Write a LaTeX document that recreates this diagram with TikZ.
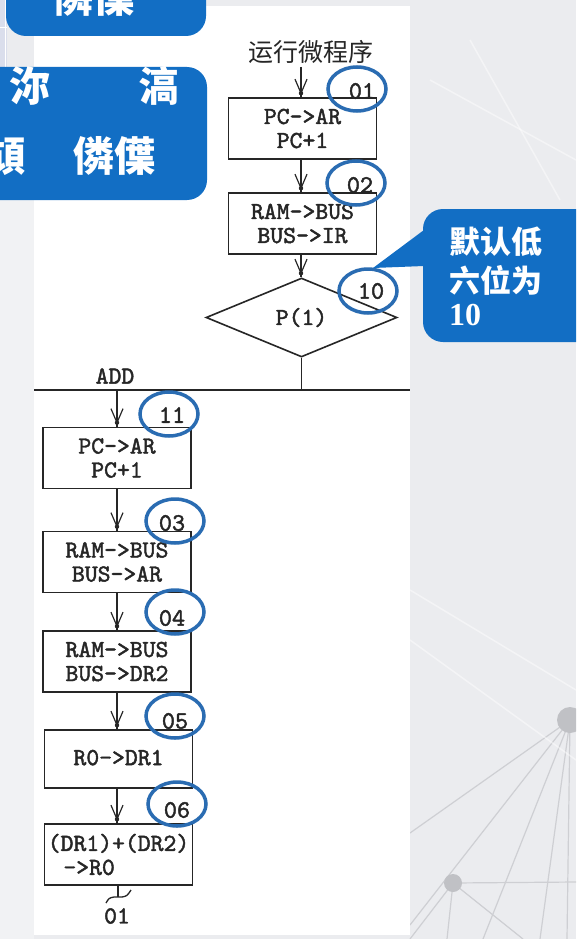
\documentclass[tikz,border=0pt]{standalone}
\usepackage{fontspec}
\setmainfont{Liberation Serif}
\newfontfamily\cjk{Noto Sans CJK SC}
\newfontfamily\dfont[FakeBold=1.8]{lmmono10-regular.otf}
\usetikzlibrary{shapes.geometric}
\definecolor{bgcol}{RGB}{235,236,239}
\definecolor{slideblue}{RGB}{18,110,196}
\definecolor{ringblue}{RGB}{42,108,178}
\definecolor{ink}{RGB}{38,38,38}
\definecolor{netline}{RGB}{206,207,211}
\definecolor{netdot}{RGB}{192,193,197}
\definecolor{stripcol}{RGB}{218,222,236}
\begin{document}
\begin{tikzpicture}[x=1pt,y=-1pt,
  box/.style={draw=ink, line width=1.6pt, minimum width=148pt, minimum height=61pt,
    inner sep=0pt, align=center, text=ink, font=\dfont\fontsize{24.5}{24}\selectfont},
  dlabel/.style={text=ink, inner sep=0pt, font=\dfont\fontsize{24.5}{24}\selectfont},
  ringlabel/.style={text=ink, inner sep=0pt, font=\dfont\fontsize{25}{24}\selectfont},
  ring/.style={draw=ringblue, line width=3.5pt, ellipse, minimum width=58pt, minimum height=44pt, inner sep=0pt},
  flow/.style={draw=ink, line width=1.3pt},
  whitecjk/.style={text=white, inner sep=0pt, font=\cjk\bfseries\fontsize{41}{41}\selectfont},
  callcjk/.style={text=white, inner sep=0pt, anchor=west, font=\cjk\bfseries\fontsize{31}{31}\selectfont},
  barb/.pic={\draw[ink, line width=1.2pt] (-6,-18) -- (0,-4) -- (6,-18);
             \fill[ink] (0,-4) circle (2.2);}
]
\useasboundingbox (0,0) rectangle (576,939);
\clip (0,0) rectangle (576,939);
% background
\fill[bgcol] (0,0) rectangle (576,939);
\fill[white, opacity=0.35] (0,180) rectangle (34,939);
% faint network in background
\begin{scope}[line width=1.2pt, netline]
  \coordinate (n1) at (570,720);
  \coordinate (n2) at (453,883);
  \draw (n1) -- (410,833);
  \draw (n1) -- (410,925);
  \draw (n1) -- (483,939);
  \draw (n1) -- (540,939);
  \draw (n1) -- (567,939);
  \draw (n2) -- (576,882);
  \draw (n2) -- (410,939);
  \draw (n2) -- (447,939);
  \draw (n2) -- (523,939);
  \fill[netdot] (n1) circle (13);
  \fill[netdot] (n2) circle (9);
\end{scope}
\begin{scope}[white, line width=1.5pt, opacity=0.45]
  \draw (410,590) -- (576,690);
  \draw (410,640) -- (576,760);
  \draw (430,80) -- (576,160);
  \draw (470,40) -- (560,200);
\end{scope}
% left strip
\fill[stripcol] (0,0) rectangle (7,135);
\draw[white, line width=1pt] (0,28) -- (7,28) (0,100) -- (7,100) (5,0) -- (5,135);
% white panel
\fill[white] (34,6) rectangle (410,935);
% top-left blue boxes
\fill[slideblue, rounded corners=20pt] (6,-40) rectangle (206,36);
\fill[slideblue, rounded corners=20pt] (-40,67) rectangle (207,200);
\node[whitecjk] (tA) at (93,-3) {僯僷};
\node[whitecjk] (tB) at (30,86) {沵};
\node[whitecjk] (tC) at (159,86) {滈};
\node[whitecjk] (tD) at (5,156) {頏};
\node[whitecjk] (tE) at (114,156) {僯僷};
% upper flow
\node[text=ink, inner sep=0pt, font=\cjk\fontsize{25}{25}\selectfont] (start) at (311,52) {运行微程序};
\node[box] (b1) at (302.5,128.5) {PC->AR\\PC+1};
\node[box] (b2) at (302.5,223.5) {RAM->BUS\\BUS->IR};
\node[draw=ink, line width=1.6pt, diamond, minimum width=191pt, minimum height=79pt, inner sep=0pt,
      text=ink, font=\dfont\fontsize{24.5}{24}\selectfont] (d1) at (301.5,317.5) {P(1)};
\coordinate (busL) at (34,390);
\coordinate (busR) at (410,390);
\draw[ink, line width=1.6pt] (busL) -- (busR);
\draw[flow] (d1.south) -- (d1.south |- busL);
\node[dlabel] (add) at (115,376) {ADD};
\coordinate (s0) at (301,67);
\draw[flow] (s0) -- (s0 |- b1.north);
\pic at (s0 |- b1.north) {barb};
\draw[flow] (b1.south -| s0) -- (b2.north -| s0);
\pic at (b2.north -| s0) {barb};
\draw[flow] (b2.south -| s0) -- (d1.north -| s0);
\pic at (d1.north -| s0) {barb};
% lower flow
\node[box] (b11) at (117,458) {PC->AR\\PC+1};
\node[box] (b03) at (117,562) {RAM->BUS\\BUS->AR};
\node[box] (b04) at (117,661.5) {RAM->BUS\\BUS->DR2};
\node[box, minimum height=58pt] (b05) at (118.5,759) {\raisebox{3pt}{R0->DR1}};
\node[box] (b06) at (118.5,854.5) {(DR1)+(DR2)\\->R0\hspace*{2.4em}};
\coordinate (x0) at (117,390);
\draw[flow] (x0) -- (x0 |- b11.north);
\pic at (x0 |- b11.north) {barb};
\draw[flow] (x0 |- b11.south) -- (x0 |- b03.north);
\pic at (x0 |- b03.north) {barb};
\draw[flow] (x0 |- b03.south) -- (x0 |- b04.north);
\pic at (x0 |- b04.north) {barb};
\draw[flow] (x0 |- b04.south) -- (x0 |- b05.north);
\pic at (x0 |- b05.north) {barb};
\draw[flow] (x0 |- b05.south) -- (x0 |- b06.north);
\pic at (x0 |- b06.north) {barb};
\coordinate (endv) at (118,897);
\draw[flow] (endv |- b06.south) -- (endv);
\draw[flow] (106,903) .. controls (109,898) .. (114,897) -- (122,897) .. controls (127,896) .. (131,890);
\node[dlabel] (goto) at (117,916) {01};
% rings
\node[ring] (r01) at (357,89) {};
\node[ring] (r02) at (356,183) {};
\node[ring] (r10) at (368,291) {};
\node[ring] (r11) at (169,414) {};
\node[ring] (r03) at (175,521) {};
\node[ring] (r04) at (175,612) {};
\node[ring] (r05) at (175,716) {};
\node[ring] (r06) at (177,804) {};
\node[ringlabel] at ([xshift=5pt,yshift=-2pt]r01.center) {01};
\node[ringlabel] at ([xshift=4pt,yshift=-2pt]r02.center) {02};
\node[ringlabel] at ([xshift=3pt,yshift=0pt]r10.center) {10};
\node[ringlabel] at ([xshift=3pt,yshift=-1pt]r11.center) {11};
\node[ringlabel] at ([xshift=-3pt,yshift=-2pt]r03.center) {03};
\node[ringlabel] at ([xshift=-3pt,yshift=-6pt]r04.center) {04};
\node[ringlabel] at ([xshift=0pt,yshift=-5pt]r05.center) {05};
\node[ringlabel] at ([xshift=0pt,yshift=-6pt]r06.center) {06};
% callout
\fill[slideblue, rounded corners=20pt] (423,209) rectangle (600,342);
\fill[slideblue] (424,230) -- (373,268) -- (424,266) -- cycle;
\node[callcjk] (c1) at (449,242) {默认低};
\node[callcjk] (c2) at (449,280) {六位为};
\node[text=white, inner sep=0pt, anchor=west, font=\bfseries\fontsize{32}{32}\selectfont] (c3) at (449,315) {10};
\end{tikzpicture}
\end{document}
